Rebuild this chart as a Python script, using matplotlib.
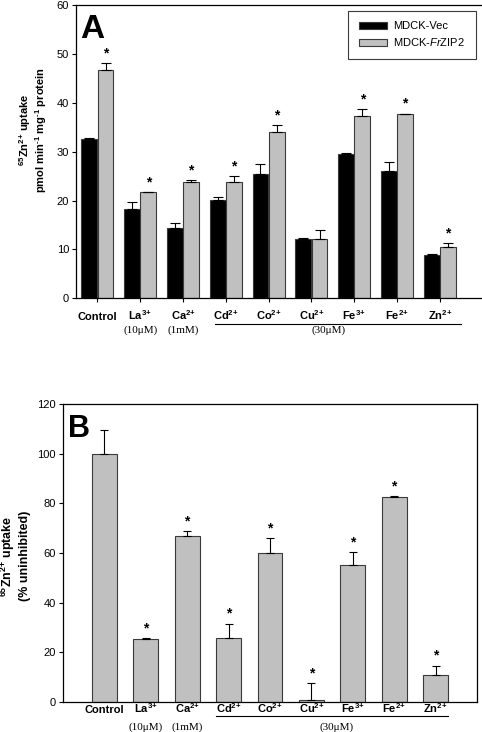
import matplotlib
matplotlib.use("Agg")
import matplotlib.pyplot as plt
import matplotlib.transforms as mtransforms
import numpy as np

plt.rcParams['font.family'] = ['Liberation Sans', 'DejaVu Sans']
plt.rcParams['mathtext.fontset'] = 'custom'
plt.rcParams['mathtext.rm'] = 'Liberation Sans:bold'
plt.rcParams['mathtext.it'] = 'Liberation Sans:italic'
plt.rcParams['mathtext.bf'] = 'Liberation Sans:bold'

# data
labels = ["Control", r"La$^{\text{3+}}$", r"Ca$^{\text{2+}}$", r"Cd$^{\text{2+}}$",
          r"Co$^{\text{2+}}$", r"Cu$^{\text{2+}}$", r"Fe$^{\text{3+}}$",
          r"Fe$^{\text{2+}}$", r"Zn$^{\text{2+}}$"]
conc_labels = ["", "(10\u03bcM)", "(1mM)"]

vec_mean = [32.6, 18.2, 14.3, 20.1, 25.5, 12.1, 29.6, 26.0, 8.9]
vec_err = [0.1, 1.5, 1.1, 0.7, 2.0, 0.2, 0.05, 1.9, 0.2]
zip_mean = [46.7, 21.7, 23.8, 23.7, 34.0, 12.1, 37.3, 37.7, 10.4]
zip_err = [1.4, 0.1, 0.3, 1.3, 1.5, 1.8, 1.4, 0.1, 0.9]
stars_a = [True, True, True, True, True, False, True, True, True]

pct_mean = [100, 25.4, 67.0, 25.8, 60.0, 0.5, 55.0, 82.6, 10.8]
pct_err = [9.7, 0.2, 1.8, 5.7, 6.0, 7.1, 5.5, 0.2, 3.8]
stars_b = [False, True, True, True, True, True, True, True, True]

gray = "#c0c0c0"
edge = "#3a3a3a"
serif = ['Liberation Serif', 'DejaVu Serif']
x = np.arange(len(labels))

fig = plt.figure(figsize=(4.82, 7.32), dpi=100)
axA = fig.add_axes([76 / 482, 1 - 298.3 / 732, 406.6 / 482, 293.3 / 732])
axB = fig.add_axes([63 / 482, 1 - 701.7 / 732, 414 / 482, 297.4 / 732])


def style(ax, xtick_len):
    for s in ax.spines.values():
        s.set_linewidth(0.9)
    ax.tick_params(axis='y', direction='out', length=3, width=0.8, labelsize=8, pad=2)
    ax.tick_params(axis='x', direction='out', length=xtick_len, width=0.8)
    ax.set_xticks(x)
    ax.set_xticklabels([])


def star(ax, xs, tops, flags):
    for xi, top, f in zip(xs, tops, flags):
        if f:
            ax.annotate("*", (xi, top), xytext=(0, 7), textcoords='offset points',
                        ha='center', va='center', fontsize=10, fontweight='bold')


def x_labels(ax, y_lab, y_line, y_conc, line_start, line_end, text_x):
    tr = mtransforms.blended_transform_factory(ax.transData, ax.transAxes)
    for xi, s in zip(x, labels):
        ax.text(xi, y_lab, s, transform=tr, ha='center', va='baseline',
                fontsize=8, fontweight='bold')
    for xi, s in zip(x, conc_labels):
        if s:
            ax.text(xi, y_conc, s, transform=tr, ha='center', va='baseline',
                    fontsize=8, family=serif)
    ax.plot([line_start, line_end], [y_line, y_line], transform=tr, color='black',
            lw=0.8, clip_on=False)
    ax.text(text_x, y_conc, "(30\u03bcM)", transform=tr, ha='center', va='baseline',
            fontsize=8, family=serif)


# panel A
w = 0.37
axA.bar(x - 0.19, vec_mean, w, color='black', edgecolor=edge, lw=0.8, label='MDCK-Vec')
axA.bar(x + 0.19, zip_mean, w, color=gray, edgecolor=edge, lw=0.8, label=r'MDCK-$\it{Fr}$ZIP2')
axA.errorbar(x - 0.19, vec_mean, yerr=[np.zeros(9), vec_err], fmt='none', ecolor='black',
             elinewidth=0.8, capsize=3.5, capthick=0.8)
axA.errorbar(x + 0.19, zip_mean, yerr=[np.zeros(9), zip_err], fmt='none', ecolor='black',
             elinewidth=0.8, capsize=3.5, capthick=0.8)
star(axA, x + 0.19, np.array(zip_mean) + np.array(zip_err), stars_a)
axA.set_xlim(-0.5, 9.0)
axA.set_ylim(0, 60)
axA.set_yticks(range(0, 61, 10))
style(axA, 3)
axA.set_ylabel(r"$^{\text{65}}$Zn$^{\text{2+}}$ uptake" + "\n" +
               r"pmol min$^{\text{-1}}$ mg$^{\text{-1}}$ protein",
               fontsize=8, fontweight='bold', linespacing=1.05)
axA.yaxis.set_label_coords(-0.066, 0.574)
axA.text(0.01, 0.968, "A", transform=axA.transAxes, fontsize=24, fontweight='bold',
         va='top', ha='left')
leg = axA.legend(loc='upper right', bbox_to_anchor=(0.983, 0.98), fontsize=8,
                 fancybox=False, framealpha=1, edgecolor=edge, handlelength=2.5,
                 handleheight=0.65, borderpad=0.95, labelspacing=0.45, borderaxespad=0,
                 handletextpad=0.6)
leg.get_frame().set_linewidth(0.8)
x_labels(axA, -0.074, -0.0887, -0.1159, 2.75, 8.5, 5.4)

# panel B
axB.bar(x, pct_mean, 0.6, color=gray, edgecolor=edge, lw=0.8)
axB.errorbar(x, pct_mean, yerr=[np.zeros(9), pct_err], fmt='none', ecolor='black',
             elinewidth=0.8, capsize=3, capthick=0.8)
star(axB, x, np.array(pct_mean) + np.array(pct_err), stars_b)
axB.set_xlim(-1, 9)
axB.set_ylim(0, 120)
axB.set_yticks(range(0, 121, 20))
style(axB, 0)
axB.set_ylabel(r"$^{\text{65}}$Zn$^{\text{2+}}$ uptake" + "\n" + "(% uninhibited)",
               fontsize=9, fontweight='bold')
axB.yaxis.set_label_coords(-0.077, 0.49)
axB.text(0.012, 0.968, "B", transform=axB.transAxes, fontsize=22, fontweight='bold',
         va='top', ha='left')
x_labels(axB, -0.039, -0.047, -0.094, 2.7, 8.3, 5.6)

fig.savefig("out.png", dpi=100)
